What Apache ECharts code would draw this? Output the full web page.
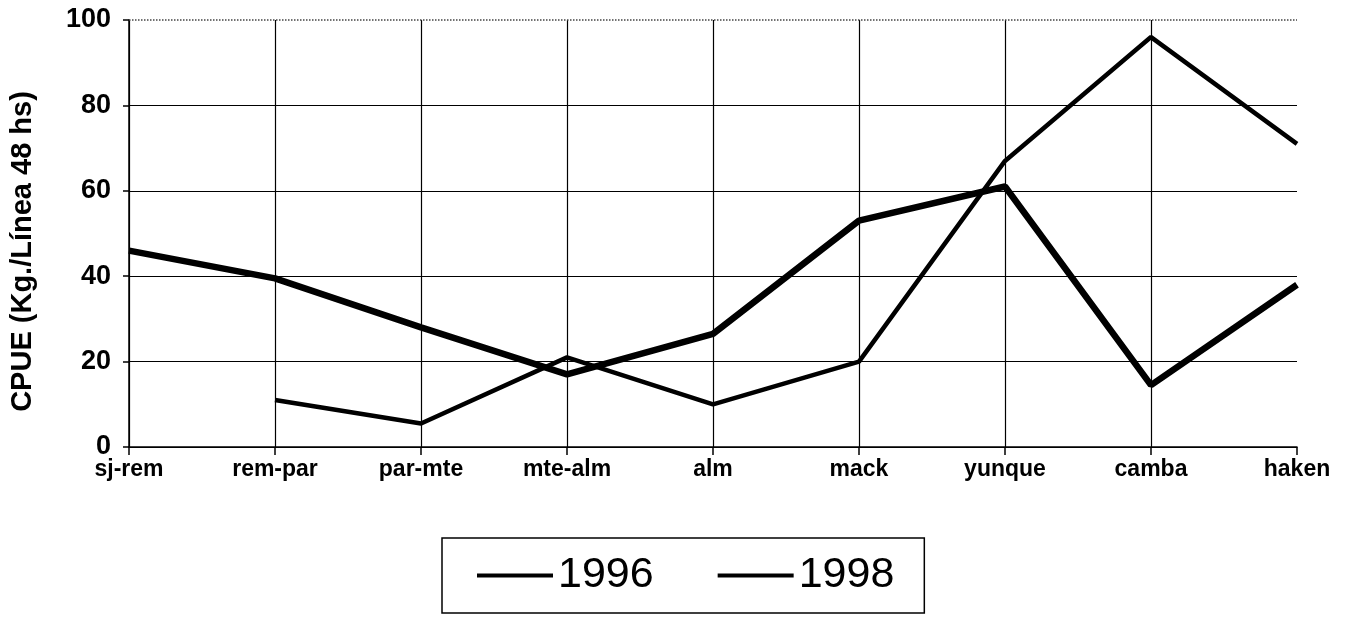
<!DOCTYPE html>
<html>
<head>
<meta charset="utf-8">
<script src="https://cdn.jsdelivr.net/npm/echarts@6/dist/echarts.min.js"></script>
<style>
html,body{margin:0;padding:0;background:#fff;}
#chart{width:1346px;height:622px;}
</style>
</head>
<body>
<div id="chart"></div>
<script>
const categories = ['sj-rem','rem-par','par-mte','mte-alm','alm','mack','yunque','camba','haken'];
const values1996 = [46, 39.5, 28, 17, 26.5, 53, 61, 14.5, 38];
const values1998 = [null, 11, 5.5, 21, 10, 20, 67, 96, 71];
const yTicks = [0, 20, 40, 60, 80, 100];
const seriesNames = ['1996', '1998'];

const chart = echarts.init(document.getElementById('chart'));
const font = '"Liberation Sans", Arial, sans-serif';
chart.setOption({
  animation: false,
  backgroundColor: '#ffffff',
  grid: {left: 128, right: 49, top: 20, bottom: 175, containLabel: false},
  legend: {
    left: 442, top: 538,
    orient: 'horizontal',
    padding: [16, 30, 16, 35],
    borderColor: '#000', borderWidth: 1.5,
    itemWidth: 76, itemHeight: 4, itemGap: 64,
    textStyle: {fontSize: 43, fontFamily: font, color: '#000'},
    data: [
      {name: seriesNames[0], icon: 'rect', itemStyle: {color: '#000'}},
      {name: seriesNames[1], icon: 'rect', itemStyle: {color: '#000'}}
    ]
  },
  xAxis: {
    type: 'category',
    data: categories,
    boundaryGap: false,
    axisLine: {show: true, lineStyle: {color: '#000', width: 1.5}},
    axisTick: {show: true, length: 8, inside: false, lineStyle: {color: '#000', width: 1.5}},
    axisLabel: {fontSize: 23, fontWeight: 'bold', fontFamily: font, color: '#000', margin: 11, interval: 0},
    splitLine: {show: true, showMaxLine: false, lineStyle: {color: '#000', width: 1.2}}
  },
  yAxis: {
    type: 'value',
    min: yTicks[0], max: yTicks[yTicks.length - 1], interval: 20,
    name: 'CPUE (Kg./Línea 48 hs)',
    nameLocation: 'middle',
    nameGap: 92,
    nameRotate: 90,
    nameTextStyle: {fontSize: 29, fontWeight: 'bold', fontFamily: font, color: '#000', padding: [0, 36, 0, 0]},
    axisLine: {show: true, lineStyle: {color: '#000', width: 1.5}},
    axisTick: {show: true, length: 6, lineStyle: {color: '#000', width: 1.5}},
    axisLabel: {fontSize: 27, fontWeight: 'bold', fontFamily: font, color: '#000', margin: 18},
    splitLine: {show: true, showMaxLine: false, lineStyle: {color: '#000', width: 1.2}}
  },
  series: [
    {
      name: seriesNames[0], type: 'line', data: values1996,
      showSymbol: false, symbol: 'none',
      lineStyle: {color: '#000', width: 6.5},
      itemStyle: {color: '#000'},
      markLine: {
        silent: true, symbol: 'none', label: {show: false},
        lineStyle: {type: 'dotted', color: '#444', width: 1.5},
        data: [{yAxis: 100}]
      }
    },
    {
      name: seriesNames[1], type: 'line', data: values1998,
      showSymbol: false, symbol: 'none', connectNulls: false,
      lineStyle: {color: '#000', width: 4.5},
      itemStyle: {color: '#000'}
    }
  ]
});
</script>
</body>
</html>
